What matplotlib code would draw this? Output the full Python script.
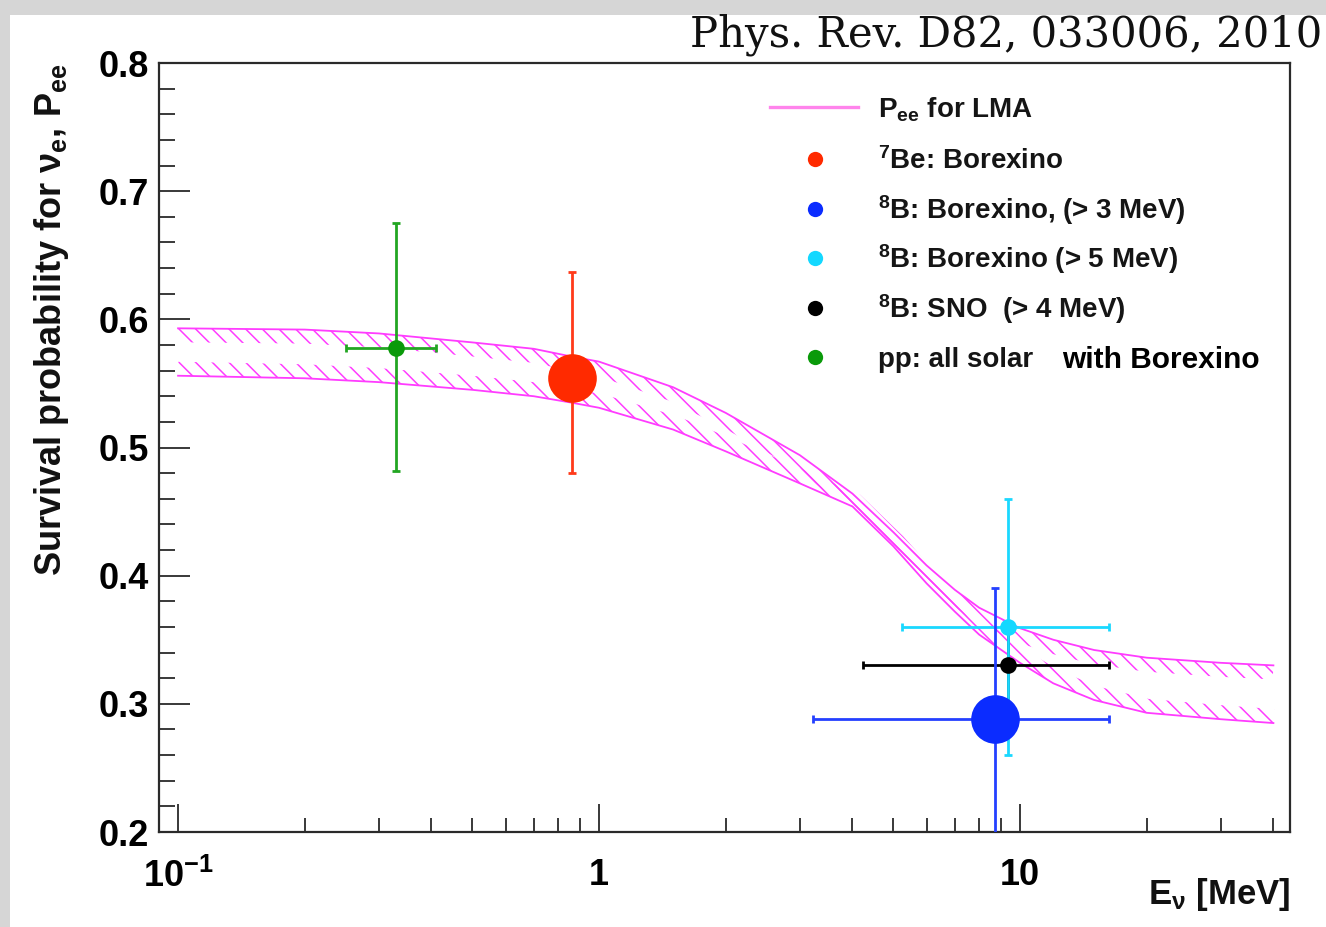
import numpy as np
import matplotlib
matplotlib.use("Agg")
import matplotlib.pyplot as plt
from matplotlib.lines import Line2D
from matplotlib.patches import Polygon, Rectangle

# ---------------- data ----------------
# LMA survival-probability band: upper and lower edges vs neutrino energy (MeV)
band_energy = [0.1, 0.2, 0.3, 0.5, 0.7, 0.86, 1.0, 1.5, 2.0, 3.0, 4.0, 5.0,
               6.0, 7.0, 8.0, 10.0, 12.0, 15.0, 20.0, 30.0, 40.0]
band_upper = [0.593, 0.592, 0.589, 0.582, 0.577, 0.571, 0.567, 0.547, 0.527,
              0.494, 0.464, 0.434, 0.408, 0.389, 0.375, 0.359, 0.350, 0.342,
              0.336, 0.332, 0.330]
band_lower = [0.556, 0.554, 0.551, 0.545, 0.540, 0.535, 0.531, 0.514, 0.497,
              0.472, 0.454, 0.423, 0.394, 0.372, 0.354, 0.332, 0.316, 0.303,
              0.293, 0.288, 0.285]

# measurements: energy, P_ee, energy range, P_ee errors
labels = ["pp", "7Be", "8B_BX3", "8B_BX5", "8B_SNO"]
energy = [0.33, 0.862, 8.72, 9.37, 9.37]
energy_err_lo = [0.08, 0.0, 5.50, 4.13, 5.13]
energy_err_hi = [0.08, 0.0, 7.55, 6.90, 6.90]
pee = [0.578, 0.554, 0.288, 0.360, 0.330]
pee_err_lo = [0.096, 0.074, 0.102, 0.100, 0.030]
pee_err_hi = [0.097, 0.083, 0.102, 0.100, 0.030]
point_colors = ["#0a9a0a", "#ff2a00", "#0b2cff", "#14d8ff", "#000000"]
bar_colors = ["#22a622", "#ff3a1a", "#2440ff", "#1ad8ff", "#000000"]
marker_sizes = [12, 35, 35, 12, 12]

legend_labels = [r"P$_{ee}$ for LMA", r"$^{7}$Be: Borexino",
                 r"$^{8}$B: Borexino, (> 3 MeV)", r"$^{8}$B: Borexino (> 5 MeV)",
                 r"$^{8}$B: SNO  (> 4 MeV)", "pp: all solar"]
legend_marker_colors = ["#ff2a00", "#0b2cff", "#14d8ff", "#000000", "#0a9a0a"]

yticks = [0.2, 0.3, 0.4, 0.5, 0.6, 0.7, 0.8]
ytick_labels = ["0.2", "0.3", "0.4", "0.5", "0.6", "0.7", "0.8"]
xticks = [0.1, 1, 10]
xtick_labels = [r"10$^{-1}$", "1", "10"]

# ---------------- style ----------------
plt.rcParams["font.family"] = ["Liberation Sans", "DejaVu Sans"]
plt.rcParams["font.weight"] = "bold"
plt.rcParams["mathtext.default"] = "regular"
plt.rcParams["hatch.linewidth"] = 1.1

W, H = 1326, 927
fig = plt.figure(figsize=(W / 100, H / 100), dpi=100)
fig.patch.set_facecolor("#d6d6d6")
fig.add_artist(Rectangle((10 / W, 0), 1 - 10 / W, 1 - 15 / H,
                         transform=fig.transFigure, facecolor="white",
                         edgecolor="none", zorder=0))


def fx(px):
    return px / W


def fy(py):
    return 1 - py / H


ax = fig.add_axes([fx(159), fy(832), (1290 - 159) / W, (832 - 63) / H])
ax.set_xscale("log")
ax.set_xlim(0.0901, 43.8)
ax.set_ylim(0.2, 0.8)

axis_color = "#2a2a2a"
for s in ax.spines.values():
    s.set_color(axis_color)
    s.set_linewidth(1.6)

ax.set_yticks(yticks)
ax.set_yticklabels(ytick_labels)
ax.set_yticks(np.arange(0.2, 0.8001, 0.02), minor=True)
ax.set_xticks(xticks)
ax.set_xticklabels(xtick_labels)
ax.xaxis.set_minor_locator(matplotlib.ticker.LogLocator(base=10, subs=np.arange(2, 10)))
ax.xaxis.set_minor_formatter(matplotlib.ticker.NullFormatter())
ax.tick_params(axis="y", which="major", direction="in", length=22, width=1.3,
               color=axis_color, labelsize=26, pad=7)
ax.tick_params(axis="y", which="minor", direction="in", length=11.5, width=1.3,
               color=axis_color)
ax.tick_params(axis="x", which="major", direction="in", length=20, width=1.3,
               color=axis_color, labelsize=26, pad=19)
ax.tick_params(axis="x", which="minor", direction="in", length=10, width=1.3,
               color=axis_color)
ax.tick_params(top=False, right=False, which="both")

# ---------------- LMA band ----------------
band_color = "#ff3cff"
ax.plot(band_energy, band_upper, color=band_color, lw=1.3, zorder=2)
ax.plot(band_energy, band_lower, color=band_color, lw=1.3, zorder=2)


def hatched_strip(xs, ys, side, width_px):
    """Hatched strip of fixed pixel width along one side of a curve."""
    pts = ax.transData.transform(np.column_stack([xs, ys]))
    d = np.gradient(pts, axis=0)
    d /= np.linalg.norm(d, axis=1)[:, None]
    normal = np.column_stack([d[:, 1], -d[:, 0]]) * side
    off = pts + normal * width_px
    poly = np.vstack([pts, off[::-1]])
    poly = ax.transData.inverted().transform(poly)
    ax.add_patch(Polygon(poly, closed=True, facecolor="none",
                         edgecolor=band_color, linewidth=0, hatch="\\\\",
                         zorder=1))


hatched_strip(band_energy, band_upper, 1, 14)
hatched_strip(band_energy, band_lower, -1, 14)

# ---------------- measurements ----------------
order = [4, 3, 0, 1, 2]
for i in order:
    ax.errorbar([energy[i]], [pee[i]],
                xerr=[[energy_err_lo[i]], [energy_err_hi[i]]],
                yerr=[[pee_err_lo[i]], [pee_err_hi[i]]],
                fmt="none", ecolor=bar_colors[i], elinewidth=2.0,
                capsize=3, capthick=2.0, zorder=3)
for i in order:
    ax.plot([energy[i]], [pee[i]], "o", color=point_colors[i],
            ms=marker_sizes[i], mec="none", zorder=4)

# ---------------- axis titles ----------------
fig.text(fx(52), fy(320), r"Survival probability for ν$_{e}$, P$_{ee}$",
         rotation=90, ha="center", va="center", fontsize=26, color="#111111")
fig.text(fx(1290), fy(904), r"E$_{ν}$ [MeV]", ha="right", va="baseline",
         fontsize=25, color="#111111")

# ---------------- legend ----------------
text_x = 878
rows_y = [107, 159, 209, 258, 308, 357]
fig.add_artist(Line2D([fx(770), fx(858)], [fy(rows_y[0])] * 2,
                      color="#ff84ec", lw=2.4, transform=fig.transFigure))
for y, c in zip(rows_y[1:], legend_marker_colors):
    fig.add_artist(Line2D([fx(815)], [fy(y)], marker="o", ms=11, color=c,
                          mec="none", transform=fig.transFigure))
for y, lab in zip(rows_y, legend_labels):
    fig.text(fx(text_x), fy(y + 10), lab, ha="left", va="baseline",
             fontsize=20, color="#151515")
fig.text(fx(1062), fy(357 + 11), "with Borexino", ha="left", va="baseline",
         fontsize=21.5, color="black")

# ---------------- reference note ----------------
ref = fig.text(fx(690), fy(47), "Phys. Rev. D82, 033006, 2010",
               ha="left", va="baseline", family="DejaVu Serif",
               fontweight="normal", fontsize=24, color="#111111")
renderer = fig.canvas.get_renderer()
w = ref.get_window_extent(renderer).width
ref.set_fontsize(24 * 635 / w)

fig.savefig("out.png", dpi=100, facecolor=fig.get_facecolor())
